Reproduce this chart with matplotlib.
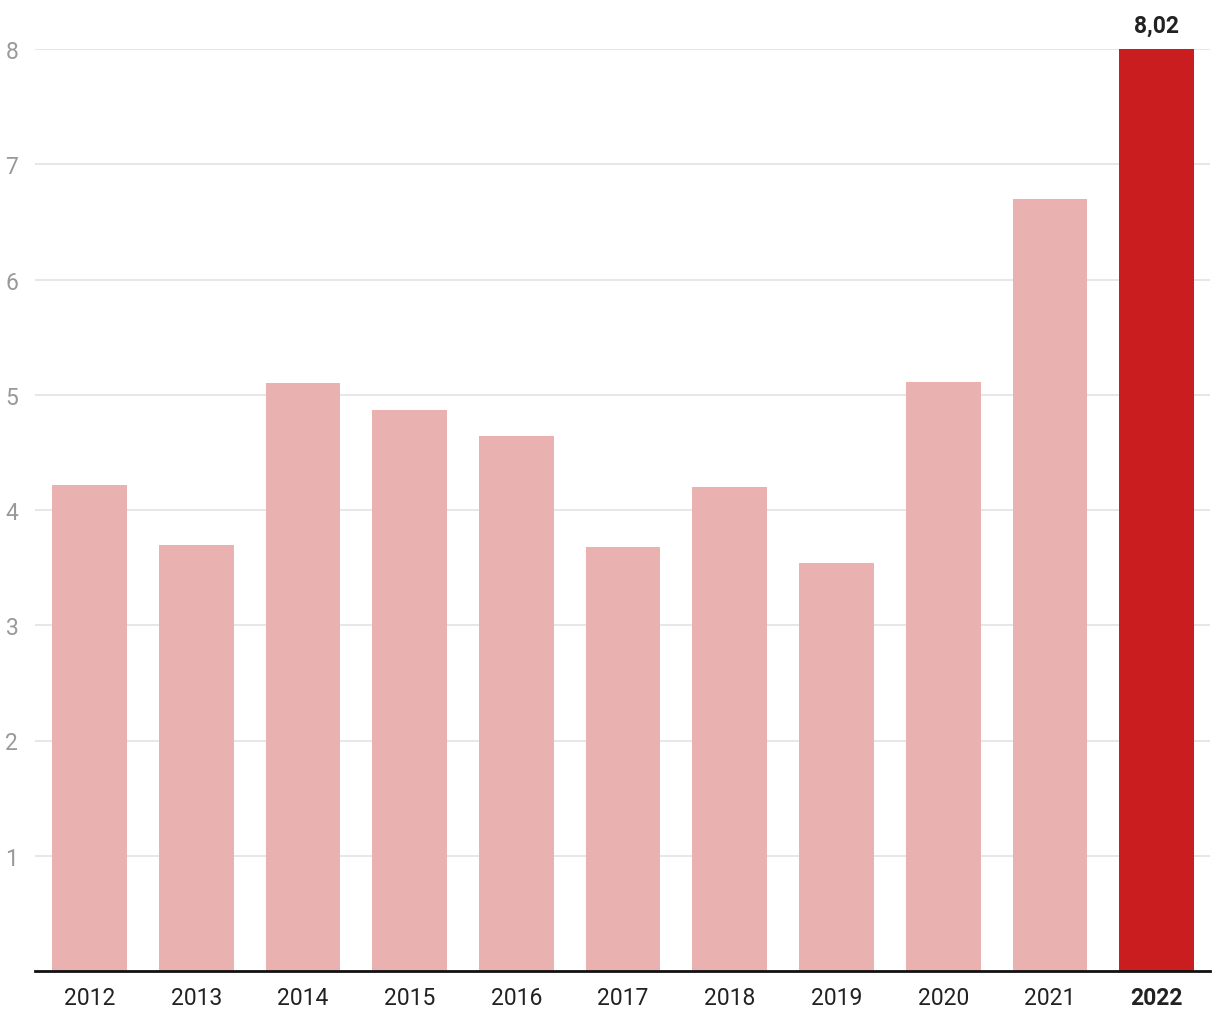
import matplotlib
matplotlib.use('Agg')
from matplotlib import pyplot as plt

plt.rcParams['font.family'] = ['Roboto', 'DejaVu Sans']

# values
years = ['2012', '2013', '2014', '2015', '2016', '2017',
         '2018', '2019', '2020', '2021', '2022']
values = [4.22, 3.70, 5.10, 4.87, 4.64, 3.68, 4.20, 3.54, 5.11, 6.70, 8.02]
yTicks = [1, 2, 3, 4, 5, 6, 7, 8]

LIGHT = '#eab1b1'
DARK = '#c91d1f'

fig = plt.figure(figsize=(12.2, 10.2), dpi=100)
ax = fig.add_axes([35 / 1220, 48 / 1020, 1175 / 1220, 922 / 1020])

colors = [LIGHT] * (len(years) - 1) + [DARK]
x = list(range(len(years)))
ax.bar(x, values, width=0.7, color=colors, zorder=2)

# label on the last bar
ax.text(x[-1], values[-1] + 0.09, '8,02', ha='center', va='bottom',
        fontsize=16.5, fontweight='bold', color='#222222')

ax.set_xlim(-0.51, 10.5)
ax.set_ylim(0, 8)
ax.set_yticks(yTicks)
ax.set_yticklabels([str(t) for t in yTicks])
ax.grid(axis='y', color='#e3e3e3', linewidth=1.2, zorder=0)

ax.set_xticks(x)
ax.set_xticklabels(years)
for i, lbl in enumerate(ax.get_xticklabels()):
    lbl.set_color('#222222')
    lbl.set_fontsize(16.5)
    if i == len(years) - 1:
        lbl.set_fontweight('bold')

ax.tick_params(axis='y', length=0, labelsize=16.5, labelcolor='#999999', pad=12)
ax.tick_params(axis='x', length=0, pad=11)

for side in ['top', 'right', 'left']:
    ax.spines[side].set_visible(False)
ax.spines['bottom'].set_color('#111111')
ax.spines['bottom'].set_linewidth(2)
ax.spines['bottom'].set_zorder(3)

fig.savefig('out.png', dpi=100, facecolor='white')
